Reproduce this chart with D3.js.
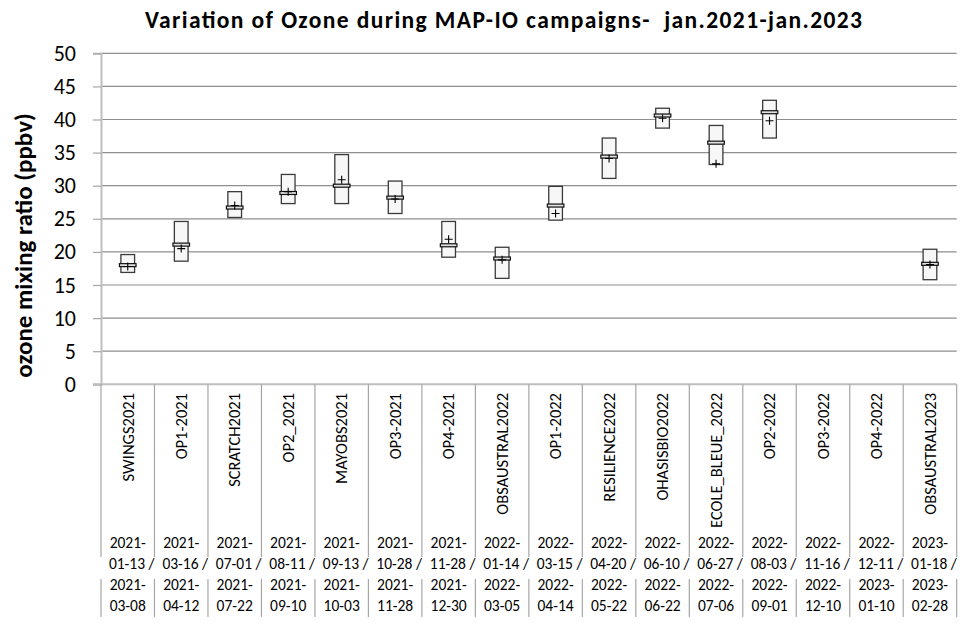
<!DOCTYPE html>
<html>
<head>
<meta charset="utf-8">
<script src="https://cdn.jsdelivr.net/npm/d3@7"></script>
<style>
  html, body { margin: 0; padding: 0; background: #fff; }
  svg text { font-family: Carlito, Lato, "Open Sans", sans-serif; fill: #000; }
</style>
</head>
<body>
<svg id="chart" width="966" height="625"></svg>
<script>
// ---- Data ----
const campaigns = ["SWINGS2021","OP1-2021","SCRATCH2021","OP2_2021","MAYOBS2021","OP3-2021","OP4-2021","OBSAUSTRAL2022","OP1-2022","RESILIENCE2022","OHASISBIO2022","ECOLE_BLEUE_2022","OP2-2022","OP3-2022","OP4-2022","OBSAUSTRAL2023"];
const startDates = ["2021-01-13","2021-03-16","2021-07-01","2021-08-11","2021-09-13","2021-10-28","2021-11-28","2022-01-14","2022-03-15","2022-04-20","2022-06-10","2022-06-27","2022-08-03","2022-11-16","2022-12-11","2023-01-18"];
const endDates   = ["2021-03-08","2021-04-12","2021-07-22","2021-09-10","2021-10-03","2021-11-28","2021-12-30","2022-03-05","2022-04-14","2022-05-22","2022-06-22","2022-07-06","2022-09-01","2022-12-10","2023-01-10","2023-02-28"];
const boxLow  = [16.9, 18.6, 25.2, 27.3, 27.3, 25.8, 19.2, 16.0, 24.8, 31.1, 38.7, 33.2, 37.2, null, null, 15.8];
const boxHigh = [19.6, 24.6, 29.1, 31.7, 34.7, 30.7, 24.6, 20.7, 29.9, 37.2, 41.7, 39.1, 42.9, null, null, 20.4];
const median  = [18.0, 21.1, 26.7, 28.9, 30.0, 28.2, 21.0, 19.0, 27.0, 34.4, 40.6, 36.5, 41.1, null, null, 18.2];
const mean    = [17.8, 20.5, 27.0, 29.1, 30.9, 28.0, 21.9, 18.8, 25.8, 34.1, 40.2, 33.3, 39.8, null, null, 18.1];
const yTicks = [0, 5, 10, 15, 20, 25, 30, 35, 40, 45, 50];
const titleText = "Variation of Ozone during MAP-IO campaigns-  jan.2021-jan.2023";
const yTitle = "ozone mixing ratio (ppbv)";

// ---- Layout ----
const svg = d3.select("#chart");
const L = 101, R = 956.7, T = 53.3, B = 384.3;
const x = d3.scaleBand().domain(campaigns).range([L, R]).padding(0);
const y = d3.scaleLinear().domain([0, 50]).range([B, T]);
const bw = x.bandwidth();

// gridlines
svg.append("g").selectAll("line").data(yTicks.filter(d => d > 0)).join("line")
  .attr("x1", L).attr("x2", R).attr("y1", d => y(d)).attr("y2", d => y(d))
  .attr("stroke", "#8e8e8e").attr("stroke-width", 1.2);

// y axis
const yAxis = d3.axisLeft(y).tickValues(yTicks).tickSize(8).tickPadding(17).tickFormat(d3.format("d"));
const gy = svg.append("g").attr("transform", `translate(${L},0)`).call(yAxis);
gy.select(".domain").attr("stroke", "#bfbfbf").attr("stroke-width", 2);
gy.selectAll(".tick line").attr("stroke", "#a6a6a6").attr("stroke-width", 1.2);
gy.selectAll(".tick text").style("font-size", "22px").attr("fill", "#000");

// x axis line
svg.append("line").attr("x1", L - 8).attr("x2", R).attr("y1", B).attr("y2", B)
  .attr("stroke", "#bfbfbf").attr("stroke-width", 2);

// category separators (split around the 2nd date row)
const bounds = campaigns.map(c => x(c)).concat([R]);
const row2Top = 557, row2Bot = 579, sepEnd = 617;
const sep = svg.append("g").attr("stroke", "#a6a6a6").attr("stroke-width", 1.2);
bounds.forEach(bx => {
  sep.append("line").attr("x1", bx).attr("x2", bx).attr("y1", B).attr("y2", row2Top);
  sep.append("line").attr("x1", bx).attr("x2", bx).attr("y1", row2Bot).attr("y2", sepEnd);
});

// category labels (rotated)
svg.append("g").selectAll("text").data(campaigns).join("text")
  .attr("transform", d => `translate(${x(d) + bw / 2},393) rotate(-90)`)
  .attr("text-anchor", "end").attr("dy", "0.35em")
  .style("font-size", "16.5px").text(d => d);

// date rows
const dateG = svg.append("g").style("font-size", "15.5px").attr("text-anchor", "middle");
campaigns.forEach((c, i) => {
  const cx = x(c) + bw / 2;
  const s = startDates[i], e = endDates[i];
  const lines = [s.slice(0, 5), s.slice(5) + " /", e.slice(0, 5), e.slice(5)];
  const dxs = [0, 4, 0, 0];
  lines.forEach((t, k) => {
    dateG.append("text").attr("x", cx + dxs[k]).attr("y", 548 + k * 21).text(t);
  });
});

// boxes
const idx = d3.range(campaigns.length).filter(i => boxLow[i] != null);
const boxW = bw * 0.256, medW = bw * 0.31;
const gBox = svg.append("g");
gBox.selectAll("rect.box").data(idx).join("rect").attr("class", "box")
  .attr("x", i => x(campaigns[i]) + bw / 2 - boxW / 2)
  .attr("width", boxW)
  .attr("y", i => y(boxHigh[i]))
  .attr("height", i => y(boxLow[i]) - y(boxHigh[i]))
  .attr("fill", "#f7f7f7").attr("stroke", "#3a3a3a").attr("stroke-width", 1.3);
gBox.selectAll("rect.med").data(idx).join("rect").attr("class", "med")
  .attr("x", i => x(campaigns[i]) + bw / 2 - medW / 2)
  .attr("width", medW)
  .attr("y", i => y(median[i]) - 1.5)
  .attr("height", 3)
  .attr("fill", "#e0e0e0").attr("stroke", "#111").attr("stroke-width", 1.2);
const plus = 4;
gBox.selectAll("path.mean").data(idx).join("path").attr("class", "mean")
  .attr("d", i => {
    const cx = x(campaigns[i]) + bw / 2, cy = y(mean[i]);
    return `M${cx - plus},${cy}H${cx + plus}M${cx},${cy - plus}V${cy + plus}`;
  })
  .attr("stroke", "#000").attr("stroke-width", 1.1).attr("fill", "none");

// titles
svg.append("text").attr("x", 503.5).attr("y", 28).attr("text-anchor", "middle")
  .attr("xml:space", "preserve").style("white-space", "pre")
  .attr("textLength", 717).attr("lengthAdjust", "spacing")
  .style("font-size", "23.5px").style("font-weight", "bold").text(titleText);
svg.append("text").attr("transform", "translate(32,245.5) rotate(-90)")
  .attr("text-anchor", "middle").style("font-size", "25px").style("font-weight", "bold").text(yTitle);
</script>
</body>
</html>
